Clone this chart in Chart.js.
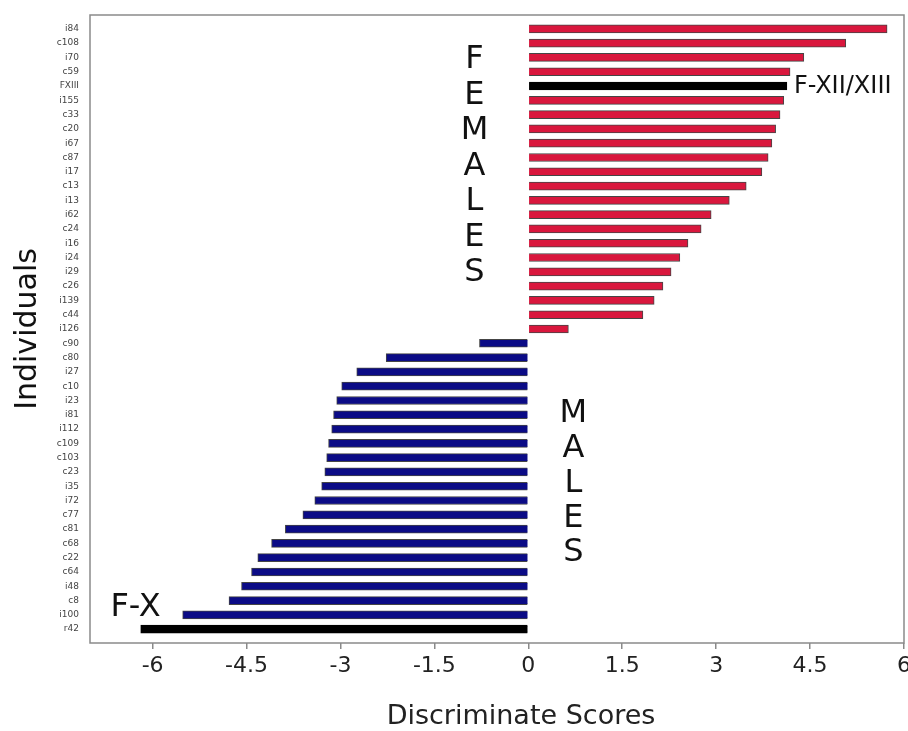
<!DOCTYPE html>
<html>
<head>
<meta charset="utf-8">
<script src="https://cdn.jsdelivr.net/npm/chart.js@4.4.0/dist/chart.umd.min.js"></script>
<style>
  html, body { margin: 0; padding: 0; background: #fff; }
  #wrap { width: 908px; height: 731px; }
</style>
</head>
<body>
<div id="wrap"><canvas id="scores"></canvas></div>
<script>
const individuals = [
    'i84', 'c108', 'i70', 'c59', 'FXIII', 'i155', 'c33', 'c20', 'i67', 'c87', 'i17',
    'c13', 'i13', 'i62', 'c24', 'i16', 'i24', 'i29', 'c26', 'i139', 'c44', 'i126',
    'c90', 'c80', 'i27', 'c10', 'i23', 'i81', 'i112', 'c109', 'c103', 'c23', 'i35',
    'i72', 'c77', 'c81', 'c68', 'c22', 'c64', 'i48', 'c8', 'i100', 'r42'
];
const scores = [
    5.73, 5.07, 4.40, 4.18, 4.13, 4.08, 4.02, 3.95, 3.89, 3.83, 3.73,
    3.48, 3.21, 2.92, 2.76, 2.55, 2.42, 2.28, 2.15, 2.01, 1.83, 0.64,
    -0.78, -2.27, -2.74, -2.98, -3.06, -3.11, -3.14, -3.19, -3.22, -3.25, -3.30,
    -3.41, -3.60, -3.88, -4.10, -4.32, -4.42, -4.58, -4.78, -5.52, -6.19
];
const fossils = ['FXIII', 'r42'];
const xTicks = [-6, -4.5, -3, -1.5, 0, 1.5, 3, 4.5, 6];

const RED = '#d9173d';
const NAVY = '#0b0b86';

const barColors = individuals.map((name, i) =>
    fossils.includes(name) ? '#000000' : (scores[i] > 0 ? RED : NAVY));
const borderColors = individuals.map(name => fossils.includes(name) ? '#000000' : '#454545');

// frame, vertical FEMALES / MALES letters, fossil labels, x title
const annotations = {
    id: 'annotations',
    afterDraw(chart) {
        const { ctx, chartArea: a, scales: { x, y } } = chart;
        ctx.save();
        ctx.strokeStyle = '#8a8a8a';
        ctx.lineWidth = 1.5;
        ctx.strokeRect(a.left, a.top, a.right - a.left, a.bottom - a.top);

        ctx.fillStyle = '#111';
        ctx.textAlign = 'center';
        ctx.textBaseline = 'middle';
        ctx.font = '32px "DejaVu Sans"';
        'FEMALES'.split('').forEach((ch, k) => {
            ctx.fillText(ch, x.getPixelForValue(-0.86), y.getPixelForValue(2.18 + k * 2.48));
        });
        'MALES'.split('').forEach((ch, k) => {
            ctx.fillText(ch, x.getPixelForValue(0.72), y.getPixelForValue(26.95 + k * 2.43));
        });

        const f13 = individuals.indexOf('FXIII');
        ctx.textAlign = 'left';
        ctx.font = '24px "DejaVu Sans"';
        ctx.fillText('F-XII/XIII', x.getPixelForValue(scores[f13]) + 7, y.getPixelForValue(f13) + 1);

        const f10 = individuals.indexOf('r42');
        ctx.textAlign = 'right';
        ctx.font = '32px "DejaVu Sans"';
        ctx.fillText('F-X', x.getPixelForValue(scores[f10]) + 20, y.getPixelForValue(f10 - 1.5));

        ctx.textAlign = 'center';
        ctx.font = '27px "DejaVu Sans"';
        ctx.fillStyle = '#222';
        ctx.fillText('Discriminate Scores', 521, 717);
        ctx.restore();
    }
};

new Chart(document.getElementById('scores'), {
    type: 'bar',
    data: {
        datasets: [{
            label: 'Discriminate Scores',
            data: scores.map((v, i) => ({ x: v, y: i })),
            backgroundColor: barColors,
            borderColor: borderColors,
            borderWidth: 1,
            barThickness: 8
        }]
    },
    options: {
        indexAxis: 'y',
        responsive: true,
        maintainAspectRatio: false,
        animation: false,
        layout: { padding: { top: 15, right: 4, left: 0, bottom: 0 } },
        plugins: {
            legend: { display: false },
            tooltip: { enabled: false }
        },
        scales: {
            x: {
                type: 'linear',
                position: 'bottom',
                min: -7,
                max: 6,
                afterBuildTicks: s => { s.ticks = xTicks.map(v => ({ value: v })); },
                afterFit: s => { s.height = 88; s.paddingRight = 0; s.paddingLeft = 0; },
                ticks: {
                    callback: v => String(v),
                    color: '#222',
                    padding: 4,
                    font: { family: 'DejaVu Sans', size: 22 }
                },
                grid: { drawOnChartArea: false, tickLength: 6, color: '#8a8a8a', lineWidth: 1.5 },
                border: { display: false }
            },
            y: {
                type: 'linear',
                reverse: true,
                offset: false,
                min: -0.97,
                max: individuals.length - 1 + 0.97,
                afterBuildTicks: s => { s.ticks = individuals.map((_, i) => ({ value: i })); },
                afterFit: s => { s.width = 90; },
                ticks: {
                    autoSkip: false,
                    callback: v => individuals[v],
                    color: '#444',
                    padding: 3,
                    font: { family: 'DejaVu Sans', size: 9 }
                },
                grid: { display: false, offset: false },
                border: { display: false },
                title: {
                    display: true,
                    text: 'Individuals',
                    color: '#111',
                    padding: { top: 10, bottom: 0 },
                    font: { family: 'DejaVu Sans', size: 30 }
                }
            }
        }
    },
    plugins: [annotations]
});
</script>
</body>
</html>
